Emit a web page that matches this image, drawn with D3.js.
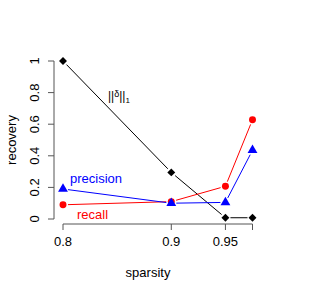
<!DOCTYPE html>
<html>
<head>
<meta charset="utf-8">
<script src="https://cdn.jsdelivr.net/npm/d3@7"></script>
<style>
body { margin: 0; background: #fff; }
text { font-family: "Liberation Sans", Arial, sans-serif; }
</style>
</head>
<body>
<div id="chart"></div>
<script>
var sparsity = [0.8, 0.9, 0.95, 0.975];
var xTickLabels = ["0.8", "0.9", "0.95", ""];
var yTicks = [0, 0.2, 0.4, 0.6, 0.8, 1];
var deltaNorm = [1, 0.295, 0.008, 0.008];
var recall = [0.09, 0.11, 0.207, 0.628];
var precision = [0.19, 0.1, 0.105, 0.435];

var width = 316, height = 294;

var svg = d3.select("#chart")
    .append("svg")
    .attr("width", width)
    .attr("height", height);

var xscale = d3.scaleLinear().domain([0.8, 0.975]).range([63, 252.5]);
var yscale = d3.scaleLinear().domain([0, 1]).range([219, 61]);

// y axis (R style, separate from box)
svg.append("line").attr("x1", 54).attr("x2", 54)
    .attr("y1", yscale(0)).attr("y2", yscale(1))
    .attr("stroke", "#555").attr("stroke-width", 1);
yTicks.forEach(function(t) {
    svg.append("line").attr("x1", 48).attr("x2", 54)
        .attr("y1", yscale(t)).attr("y2", yscale(t))
        .attr("stroke", "#555");
    svg.append("text")
        .attr("transform", "translate(39," + yscale(t) + ") rotate(-90)")
        .attr("text-anchor", "middle")
        .attr("font-size", 13)
        .text(d3.format("")(t));
});

// x axis
var xAxisY = 224;
svg.append("line").attr("x1", xscale(0.8)).attr("x2", xscale(0.975))
    .attr("y1", xAxisY).attr("y2", xAxisY)
    .attr("stroke", "#555");
sparsity.forEach(function(s, i) {
    svg.append("line").attr("x1", xscale(s)).attr("x2", xscale(s))
        .attr("y1", xAxisY).attr("y2", xAxisY + 6)
        .attr("stroke", "#555");
    svg.append("text")
        .attr("x", xscale(s)).attr("y", xAxisY + 22)
        .attr("text-anchor", "middle")
        .attr("font-size", 13)
        .text(xTickLabels[i]);
});

// axis titles
svg.append("text").text("sparsity")
    .attr("x", 148).attr("y", 277)
    .attr("text-anchor", "middle").attr("font-size", 13);
svg.append("text").text("recovery")
    .attr("transform", "translate(16,140) rotate(-90)")
    .attr("text-anchor", "middle").attr("font-size", 13);

// type="b" lines: segments with gaps at the points
function drawSeries(vals, color, shape, size) {
    var pts = sparsity.map(function(s, i) { return [xscale(s), yscale(vals[i])]; });
    var gap = 5;
    for (var i = 0; i < pts.length - 1; i++) {
        var a = pts[i], b = pts[i + 1];
        var dx = b[0] - a[0], dy = b[1] - a[1];
        var len = Math.sqrt(dx * dx + dy * dy);
        if (len <= 2 * gap) continue;
        var ux = dx / len, uy = dy / len;
        svg.append("line")
            .attr("x1", a[0] + ux * gap).attr("y1", a[1] + uy * gap)
            .attr("x2", b[0] - ux * gap).attr("y2", b[1] - uy * gap)
            .attr("stroke", color).attr("stroke-width", 1);
    }
    svg.selectAll(null)
        .data(pts)
        .enter()
        .append("path")
        .attr("d", d3.symbol().type(shape).size(size))
        .attr("transform", function(d) { return "translate(" + d[0] + "," + d[1] + ")"; })
        .attr("fill", color);
}

drawSeries(deltaNorm, "#000", d3.symbolDiamond2, 40);
drawSeries(recall, "#ff0000", d3.symbolCircle, 38);
drawSeries(precision, "#0000ff", d3.symbolTriangle, 42);

// series labels
svg.append("text").text("precision")
    .attr("x", 70).attr("y", 183)
    .attr("fill", "#0000ff").attr("font-size", 13);
svg.append("text").text("recall")
    .attr("x", 77).attr("y", 219)
    .attr("fill", "#ff0000").attr("font-size", 13);
var lab = svg.append("text").attr("x", 108).attr("y", 100).attr("font-size", 12);
lab.append("tspan").text("||");
lab.append("tspan").text("δ").attr("font-size", 9).attr("dy", -3);
lab.append("tspan").text("||").attr("dy", 3);
lab.append("tspan").text("1").attr("font-size", 8).attr("dy", 3);
</script>
</body>
</html>
